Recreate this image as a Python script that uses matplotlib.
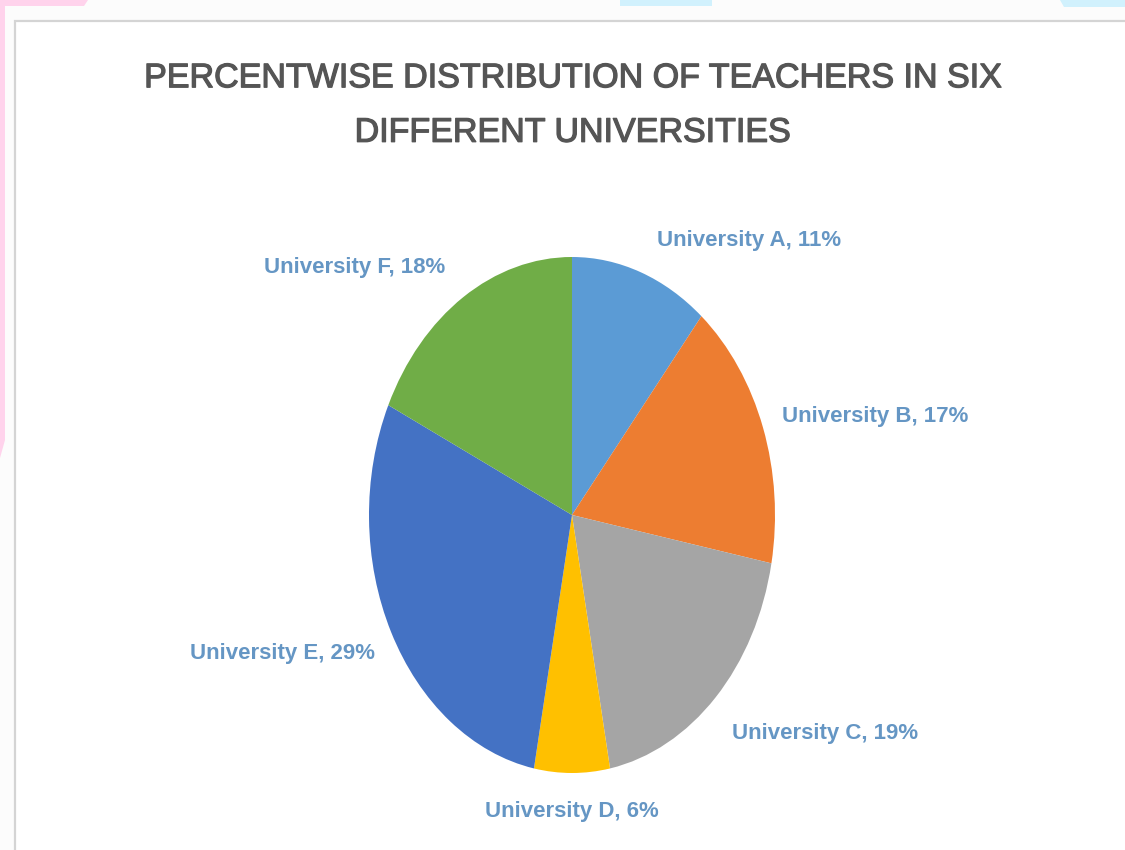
import matplotlib.pyplot as plt
import matplotlib.patheffects as pe
from matplotlib.patches import Rectangle, Polygon

universities = ["University A", "University B", "University C",
                "University D", "University E", "University F"]
shares = [11, 17, 19, 6, 29, 18]
colors = ["#5B9BD5", "#ED7D31", "#A5A5A5", "#FFC000", "#4472C4", "#70AD47"]

# label centres in pixels (x from left, y from top)
label_pos = [(749, 241), (875, 416), (825, 733), (572, 811), (282, 653), (355, 268)]

W, H = 1125, 850
fig = plt.figure(figsize=(W / 100, H / 100), dpi=100)
fig.patch.set_facecolor("#FCFCFC")

font = ["Liberation Sans", "DejaVu Sans"]

# page decorations around the chart area
bg = fig.add_axes([0, 0, 1, 1])
bg.set_xlim(0, W)
bg.set_ylim(H, 0)
bg.axis("off")
bg.add_patch(Rectangle((15, 21), W, H, facecolor="white", edgecolor="#D4D4D4", lw=1.6))
bg.add_patch(Polygon([(0, 0), (88, 0), (84, 6), (5, 6), (5, 440), (0, 458)],
                     closed=True, facecolor="#FFD3EC", edgecolor="none"))
bg.add_patch(Rectangle((620, 0), 92, 6, facecolor="#D1F1FD", edgecolor="none"))
bg.add_patch(Polygon([(1060, 0), (W, 0), (W, 7), (1064, 7)],
                     closed=True, facecolor="#D1F1FD", edgecolor="none"))

title = fig.text(572 / W, 1 - 106 / H,
                 "PERCENTWISE DISTRIBUTION OF TEACHERS IN SIX\nDIFFERENT UNIVERSITIES",
                 ha="center", va="center", fontsize=24.5, color="#555555",
                 family=font, linespacing=1.98)
title.set_path_effects([pe.withStroke(linewidth=0.9, foreground="#555555")])

# pie is drawn squashed into an ellipse box
left, right, top, bottom = 369, 775, 257, 773
ax = fig.add_axes([left / W, 1 - bottom / H, (right - left) / W, (bottom - top) / H])
ax.pie(shares, colors=colors, startangle=90, counterclock=False,
       wedgeprops=dict(linewidth=0))
ax.set_aspect("auto")
ax.set_xlim(-1, 1)
ax.set_ylim(-1, 1)
ax.axis("off")

for name, val, (px, py) in zip(universities, shares, label_pos):
    fig.text(px / W, 1 - py / H, f"{name}, {val}%", ha="center", va="center",
             fontsize=16, fontweight="bold", color="#6596C4", family=font)

fig.savefig("out.png", dpi=100, facecolor=fig.get_facecolor())
